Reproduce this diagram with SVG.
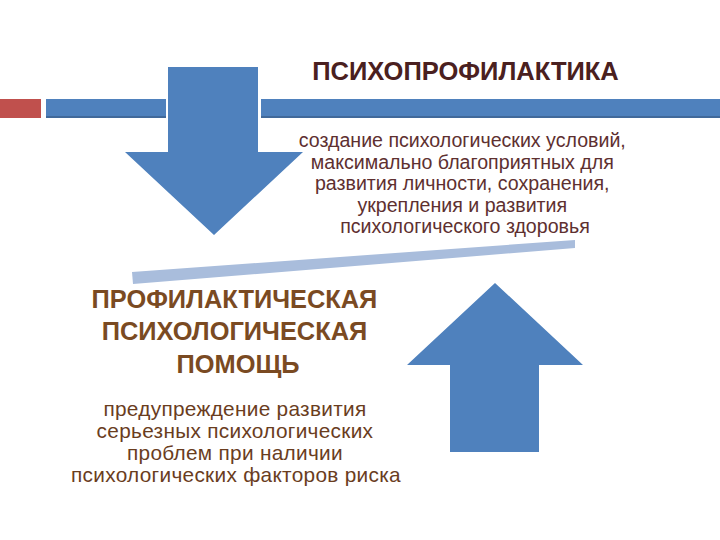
<svg xmlns="http://www.w3.org/2000/svg" width="720" height="540" viewBox="0 0 720 540">
<style>
.arrow{fill:#4f81bd}
.bar{fill:#4f81bd}
.title{font-family:"Liberation Sans",Arial,sans-serif;font-weight:bold;text-anchor:middle}
.body{font-family:"Liberation Sans",Arial,sans-serif;text-anchor:middle}
</style>
<rect width="720" height="540" fill="#ffffff"/>
<g id="header-bar">
<rect x="0" y="99" width="41" height="19" fill="#c0504d"/>
<rect class="bar" x="46" y="99" width="120" height="19"/>
<rect class="bar" x="261" y="99" width="459" height="19"/>
<rect x="46" y="116" width="120" height="2" fill="#41699a"/>
<rect x="261" y="116" width="459" height="2" fill="#41699a"/>
</g>
<g id="connectors">
<polygon id="arrow-down" class="arrow" points="168,67 258,67 258,152 303,152 214,235 125,152 168,152"/>
<polygon id="arrow-up" class="arrow" points="495,283 583,365 539,365 539,452 450,452 450,365 407,365"/>
<polygon id="divider" points="132,272 575,240 575,248 133,284" fill="#a9bddc"/>
</g>
<g id="node-psychoprophylaxis">
<text class="title" x="465.5" y="80" font-size="25.5" fill="#4a2020">ПСИХОПРОФИЛАКТИКА</text>
<text class="body" font-size="19.6" fill="#5e3030">
<tspan x="465" y="147">создание психологических условий,</tspan>
<tspan x="465" y="168.5">максимально благоприятных для</tspan>
<tspan x="465" y="190">развития личности, сохранения,</tspan>
<tspan x="465" y="211.5">укрепления и развития</tspan>
<tspan x="465" y="233">психологического здоровья</tspan>
</text>
</g>
<g id="node-preventive-help">
<text class="title" font-size="25.4" fill="#7a4a22">
<tspan x="238" y="308">ПРОФИЛАКТИЧЕСКАЯ</tspan>
<tspan x="238" y="340">ПСИХОЛОГИЧЕСКАЯ</tspan>
<tspan x="238" y="373">ПОМОЩЬ</tspan>
</text>
<text class="body" font-size="20.8" letter-spacing="0.3" fill="#6a3d1e">
<tspan x="238" y="416">предупреждение развития</tspan>
<tspan x="238" y="438">серьезных психологических</tspan>
<tspan x="238" y="460">проблем при наличии</tspan>
<tspan x="236" y="482">психологических факторов риска</tspan>
</text>
</g>
</svg>
